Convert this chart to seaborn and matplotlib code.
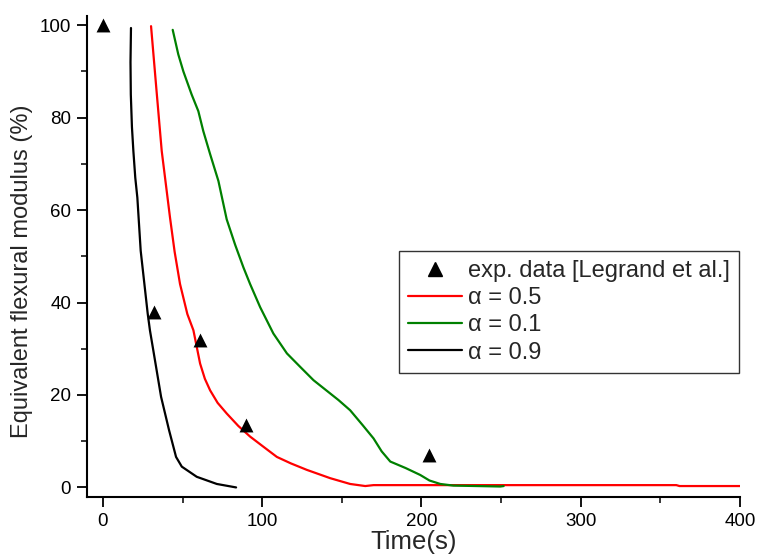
import numpy as np
import pandas as pd
import matplotlib
matplotlib.use("Agg")
import matplotlib.pyplot as plt
from matplotlib.ticker import MultipleLocator
from matplotlib.lines import Line2D
import seaborn as sns

# Experimental data
exp_t = [0, 32, 61, 90, 205]
exp_e = [100, 38, 31.8, 13.5, 7]

# alpha = 0.5 (red)
t_05 = [30.2, 33.6, 36.9, 42.1, 45.0, 48.4, 53.0, 56.8, 58.9, 61.0, 64.0,
        67.3, 72.0, 77.7, 85.0, 92.4, 100.0, 109.2, 118.0, 128.0, 142.7, 155.2,
        164.7, 169.9, 360.0, 362.0, 400.0]
e_05 = [99.8, 86.0, 72.8, 58.4, 51.0, 44.0, 37.5, 34.0, 30.4, 26.8, 23.5,
        21.0, 18.3, 16.0, 13.3, 11.0, 9.0, 6.6, 5.2, 3.8, 2.0, 0.75,
        0.3, 0.5, 0.5, 0.3, 0.3]

# alpha = 0.1 (green)
t_01 = [43.8, 47.3, 50.5, 55.7, 59.9, 63.0, 67.3, 72.5, 77.7, 83.0, 88.2, 92.4,
        98.7, 107.0, 115.5, 123.8, 132.2, 147.9, 155.2, 163.0, 169.9, 175.0,
        180.4, 190.0, 199.2, 205.0, 211.8, 220.0, 249.5, 251.6]
e_01 = [99.0, 93.7, 90.0, 85.0, 81.4, 77.1, 72.1, 66.3, 58.0, 52.5, 47.6, 44.0,
        39.0, 33.3, 29.0, 26.1, 23.2, 18.9, 16.7, 13.5, 10.6, 7.8,
        5.6, 4.2, 2.7, 1.5, 0.75, 0.4, 0.2, 0.3]

# alpha = 0.9 (black)
t_09 = [17.6, 17.3, 17.5, 18.2, 19.1, 20.3, 21.6, 23.7, 28.1, 29.5, 31.6, 36.5,
        41.5, 45.9, 49.5, 58.9, 71.5, 83.6]
e_09 = [99.4, 92.0, 85.0, 78.0, 72.8, 67.0, 62.7, 51.2, 37.6, 34.0, 29.7, 19.6,
        12.4, 6.6, 4.5, 2.3, 0.75, 0.0]

labels = ["\u03b1 = 0.5", "\u03b1 = 0.1", "\u03b1 = 0.9"]
colors = ["#ff0000", "#008000", "#000000"]

sns.set_style("ticks")
plt.rcParams["font.family"] = ["Liberation Sans", "DejaVu Sans"]

fig = plt.figure(figsize=(7.58, 5.57), dpi=100)
ax = fig.add_axes([0.1148, 0.1083, 0.8615, 0.863])

df = pd.concat([
    pd.DataFrame({"t": t_05, "E": e_05, "model": labels[0]}),
    pd.DataFrame({"t": t_01, "E": e_01, "model": labels[1]}),
    pd.DataFrame({"t": t_09, "E": e_09, "model": labels[2]}),
])
for lab, col in zip(labels, colors):
    sub = df[df["model"] == lab]
    sns.lineplot(data=sub, x="t", y="E", ax=ax, color=col, lw=1.6,
                 sort=False, estimator=None, legend=False)

sns.scatterplot(x=exp_t, y=exp_e, ax=ax, marker="^", color="black", s=100,
                edgecolor="black", linewidth=0, legend=False, zorder=5)

ax.set_xlim(-10, 400)
ax.set_ylim(-2, 102)
ax.xaxis.set_major_locator(MultipleLocator(100))
ax.xaxis.set_minor_locator(MultipleLocator(50))
ax.yaxis.set_major_locator(MultipleLocator(20))
ax.yaxis.set_minor_locator(MultipleLocator(10))
ax.tick_params(which="major", direction="out", length=7.5, width=1.3,
               labelsize=13.5, pad=4, colors="black")
ax.tick_params(which="minor", direction="out", length=4, width=1.3)
sns.despine(ax=ax)
for sp in ["left", "bottom"]:
    ax.spines[sp].set_linewidth(1.5)
    ax.spines[sp].set_color("black")

ax.set_xlabel("Time(s)", fontsize=18.5, labelpad=0.5)
ax.set_ylabel("Equivalent flexural modulus (%)", fontsize=17)
ax.yaxis.set_label_coords(-0.083, 0.47)

handles = [
    Line2D([], [], marker="^", color="black", linestyle="None", markersize=10),
    Line2D([], [], color=colors[0], lw=1.6),
    Line2D([], [], color=colors[1], lw=1.6),
    Line2D([], [], color=colors[2], lw=1.6),
]
leg = ax.legend(handles, ["exp. data [Legrand et al.]"] + labels,
                loc="upper left", bbox_to_anchor=(0.478, 0.511),
                borderaxespad=0, fontsize=17, frameon=True, fancybox=False,
                handlelength=2.3, handletextpad=0.25, borderpad=0.38,
                labelspacing=0.22)
leg.get_frame().set_edgecolor("black")
leg.get_frame().set_linewidth(1.0)

fig.savefig("out.png", dpi=100)
